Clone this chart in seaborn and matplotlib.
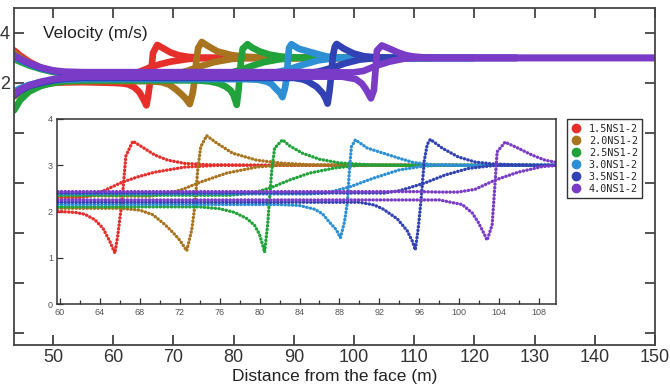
import seaborn as sns
sns.set_theme(style="ticks", rc={"axes.facecolor": "white", "figure.facecolor": "white"})
import matplotlib.pyplot as plt
from matplotlib.lines import Line2D
import pandas as pd

plt.rcParams["font.family"] = ["Liberation Sans", "DejaVu Sans"]

series = ["1.5NS1-2", "2.0NS1-2", "2.5NS1-2", "3.0NS1-2", "3.5NS1-2", "4.0NS1-2"]
colors = ["#e62e2b", "#a8741f", "#22a23a", "#2e90d4", "#3242b4", "#7a3cc6"]

# distances near the back boundary, shared by every curve
left_x = [43.5, 44.5, 46, 48, 50, 52, 55]

# lower curve (dip before the face, peak after) and upper curve (slow rise) per series
red_main_x = left_x + [60, 61.5, 62.5, 63.5, 64.3, 65, 65.5, 65.8, 66.2, 66.6, 67.3, 68.2, 69.5, 70.8, 72.5, 75, 80, 100]
red_main_y = [1.55, 1.7, 1.85, 1.95, 2.0, 2.02, 2.03,
              2.0, 1.98, 1.94, 1.82, 1.64, 1.35, 1.1, 1.5, 2.2, 3.2, 3.52, 3.4, 3.22, 3.11, 3.04, 3.01, 3.0, 3.0]
red_up_x = left_x + [60, 62, 63, 64.5, 66.2, 67.8, 69.5, 72.5, 76, 100]
red_up_y = [3.3, 3.1, 2.85, 2.6, 2.45, 2.37, 2.32,
            2.3, 2.3, 2.33, 2.46, 2.63, 2.75, 2.85, 2.96, 3.0, 3.0]

brown_main_x = left_x + [60, 66, 68, 69.3, 70.5, 71.3, 72, 72.7, 73.2, 73.5, 73.8, 74.1, 74.7, 75.7, 77.3, 79.7, 82, 85, 88, 107]
brown_main_y = [1.45, 1.62, 1.8, 1.93, 2.0, 2.05, 2.07,
                2.07, 2.07, 2.03, 1.93, 1.72, 1.55, 1.38, 1.15, 1.6, 2.1, 2.9, 3.4, 3.64, 3.48, 3.26, 3.11, 3.05, 3.01, 3.0, 3.0]
brown_up_x = left_x + [60, 69, 70.7, 72.3, 74, 76.7, 79.7, 82, 107]
brown_up_y = [3.2, 3.02, 2.8, 2.58, 2.45, 2.38, 2.34,
              2.34, 2.33, 2.38, 2.48, 2.63, 2.83, 2.96, 3.0, 3.0]

green_main_x = left_x + [60, 74, 76, 77.5, 78.7, 79.5, 80, 80.3, 80.5, 80.8, 81.2, 81.5, 82.3, 83, 84.3, 86, 88, 91, 95, 113]
green_main_y = [0.9, 1.3, 1.65, 1.88, 2.0, 2.07, 2.1,
                2.1, 2.1, 2.06, 1.98, 1.85, 1.7, 1.5, 1.28, 1.12, 1.7, 2.85, 3.37, 3.55, 3.42, 3.26, 3.13, 3.05, 3.01, 3.0, 3.0]
green_up_x = left_x + [60, 77, 78.5, 79.7, 81.3, 83, 85, 87.5, 90, 113]
green_up_y = [2.95, 2.85, 2.7, 2.55, 2.44, 2.38, 2.35,
              2.35, 2.35, 2.38, 2.42, 2.53, 2.68, 2.83, 2.94, 3.0, 3.0]

ltblue_main_x = left_x + [60, 82, 84, 85.5, 86.3, 87, 87.7, 88.1, 88.5, 88.8, 89, 89.2, 89.6, 90.8, 92.4, 94, 95.4, 97.5, 100, 120]
ltblue_main_y = [1.65, 1.78, 1.92, 2.03, 2.1, 2.13, 2.15,
                 2.15, 2.15, 2.13, 2.05, 1.95, 1.77, 1.6, 1.43, 1.77, 2.2, 2.9, 3.4, 3.55, 3.37, 3.26, 3.15, 3.06, 3.01, 3.0, 3.0]
ltblue_up_x = left_x + [60, 85, 86.7, 89, 91.4, 94, 96.4, 98, 120]
ltblue_up_y = [3.05, 2.92, 2.75, 2.58, 2.47, 2.4, 2.38,
               2.38, 2.38, 2.4, 2.53, 2.72, 2.9, 2.98, 3.0, 3.0]

dkblue_main_x = left_x + [60, 90, 91.5, 92.4, 93.8, 94.8, 95.3, 95.6, 95.9, 96.2, 96.5, 96.8, 97.1, 98.3, 99.9, 101.6, 103.3, 105.5, 108, 127]
dkblue_main_y = [1.5, 1.68, 1.87, 2.0, 2.1, 2.16, 2.2,
                 2.2, 2.2, 2.14, 2.05, 1.84, 1.58, 1.36, 1.17, 1.64, 2.3, 3.1, 3.45, 3.56, 3.37, 3.18, 3.07, 3.03, 3.01, 3.0, 3.0]
dkblue_up_x = left_x + [60, 92.5, 94, 94.8, 96.6, 98.6, 100.9, 103.3, 105, 127]
dkblue_up_y = [3.1, 2.95, 2.78, 2.6, 2.48, 2.42, 2.4,
               2.4, 2.4, 2.45, 2.5, 2.62, 2.79, 2.93, 2.99, 3.0, 3.0]

purple_main_x = left_x + [60, 98, 100.3, 101.3, 101.9, 102.4, 102.8, 103.3, 103.6, 103.8, 104.6, 105.9, 107.3, 108.6, 109.8, 112, 115, 150]
purple_main_y = [1.55, 1.72, 1.9, 2.05, 2.15, 2.2, 2.25,
                 2.25, 2.25, 2.15, 1.97, 1.77, 1.56, 1.38, 1.71, 2.63, 3.29, 3.5, 3.37, 3.22, 3.11, 3.06, 3.01, 3.0, 3.0]
purple_up_x = left_x + [60, 96, 97.9, 99.9, 101.6, 103.6, 105.9, 108.3, 110, 150]
purple_up_y = [3.1, 2.97, 2.8, 2.62, 2.5, 2.45, 2.43,
               2.43, 2.43, 2.42, 2.42, 2.48, 2.68, 2.85, 2.97, 3.0, 3.0]

curves = [
    (series[0], "main", red_main_x, red_main_y), (series[0], "up", red_up_x, red_up_y),
    (series[1], "main", brown_main_x, brown_main_y), (series[1], "up", brown_up_x, brown_up_y),
    (series[2], "main", green_main_x, green_main_y), (series[2], "up", green_up_x, green_up_y),
    (series[3], "main", ltblue_main_x, ltblue_main_y), (series[3], "up", ltblue_up_x, ltblue_up_y),
    (series[4], "main", dkblue_main_x, dkblue_main_y), (series[4], "up", dkblue_up_x, dkblue_up_y),
    (series[5], "main", purple_main_x, purple_main_y), (series[5], "up", purple_up_x, purple_up_y),
]
rows = []
for name, branch, xs, ys in curves:
    for x, y in zip(xs, ys):
        rows.append((name, branch, x, y))
df = pd.DataFrame(rows, columns=["series", "branch", "dist", "vel"])

fig = plt.figure(figsize=(6.7, 3.9), dpi=100)

# main axes
ax = fig.add_axes([14 / 670, 1 - 345 / 390, 641 / 670, 337 / 390])
sns.lineplot(data=df, x="dist", y="vel", hue="series", hue_order=series, units="branch",
             estimator=None, sort=False, palette=colors, linewidth=4.8, legend=False, ax=ax)
ax.set_xlim(43.5, 150)
ax.set_ylim(-8.5, 5)
ax.set_xticks(range(50, 151, 10))
ax.set_yticks([4, 2, 0, -2, -4, -6, -8])
ax.set_yticklabels(["4", "2", "", "", "", "", ""])
ax.tick_params(direction="in", top=True, right=True, length=7, width=1.2,
               labelsize=13, pad=3, colors="#333333")
ax.set_xlabel("Distance from the face (m)", fontsize=12.5, color="#222222", labelpad=2)
ax.set_ylabel("")
for s in ax.spines.values():
    s.set_color("#444444")
    s.set_linewidth(1.3)
ax.text(0.045, 0.925, "Velocity (m/s)", transform=ax.transAxes, fontsize=12.5,
        color="#222222", va="center", ha="left")

# inset with a close view of the face region
ins = fig.add_axes([57 / 670, 1 - 304 / 390, 499 / 670, 185 / 390])
sns.lineplot(data=df, x="dist", y="vel", hue="series", hue_order=series, units="branch",
             estimator=None, sort=False, palette=colors, linewidth=2.4, legend=False, ax=ins,
             linestyle=(0, (0.1, 1.0)), dash_capstyle="round")
ins.set_xlim(59.7, 109.7)
ins.set_ylim(0, 4)
ins.set_xticks(range(60, 109, 4))
ins.set_xticks(range(62, 110, 4), minor=True)
ins.set_yticks([0, 1, 2, 3, 4])
ins.tick_params(which="both", direction="in", length=4, width=0.9, labelsize=6.5,
                labelcolor="#555555", color="#333333", pad=3)
ins.tick_params(which="minor", length=3)
ins.set_xlabel("")
ins.set_ylabel("")
for s in ins.spines.values():
    s.set_color("#333333")
    s.set_linewidth(1.1)

handles = [Line2D([], [], linestyle="none", marker="o", markersize=6, color=c) for c in colors]
ax.legend(handles, series, loc="upper left", bbox_to_anchor=(567 / 670, 1 - 119 / 390),
          bbox_transform=fig.transFigure, frameon=True, fancybox=False, edgecolor="#333333",
          framealpha=1, borderpad=0.45, labelspacing=0.2, handlelength=0.8, handletextpad=0.9,
          borderaxespad=0, prop={"family": "DejaVu Sans Mono", "size": 7.3})

fig.savefig("out.png", dpi=100)
